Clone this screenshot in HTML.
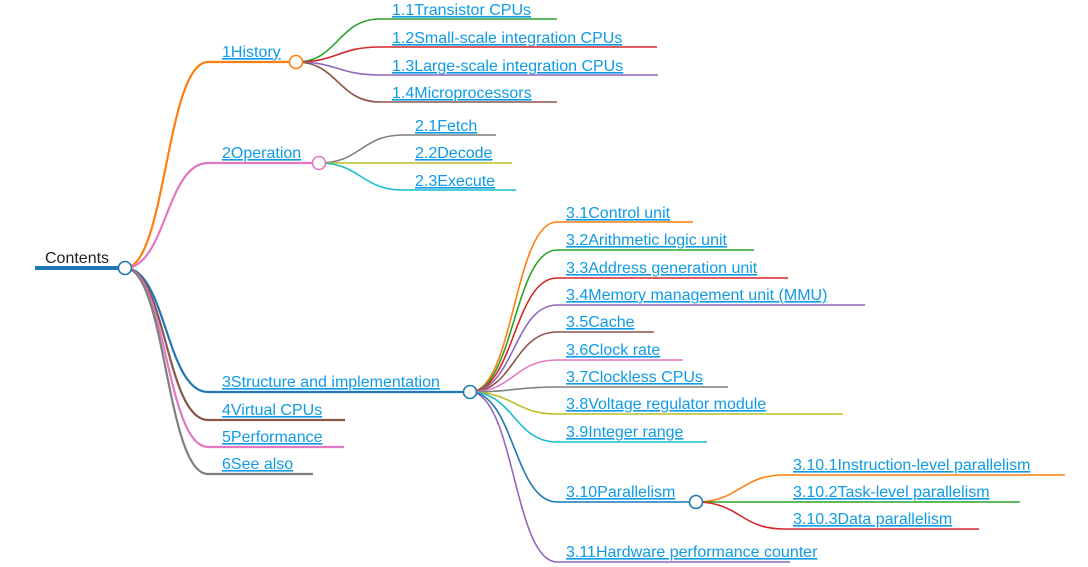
<!DOCTYPE html>
<html><head><meta charset="utf-8"><style>
html,body{margin:0;padding:0;background:#fff;width:1088px;height:567px;overflow:hidden}
svg text{font-family:"Liberation Sans",Arial,sans-serif;font-size:16px;fill:#0e9be6;text-decoration:underline}
svg path{fill:none}
</style></head><body>
<svg width="1088" height="567" viewBox="0 0 1088 567" xmlns="http://www.w3.org/2000/svg">
<!-- root -->
<path d="M35 268 L125 268" stroke="#1f77b4" stroke-width="4"/>
<text x="45" y="263" style="fill:#222;text-decoration:none">Contents</text>

<!-- level1 links -->
<g stroke-width="2.2">
<path d="M125 268 C166 268,166 62,208 62 L296 62" stroke="#ff7f0e"/>
<path d="M125 268 C166 268,166 163,208 163 L319 163" stroke="#e377c2"/>
<path d="M125 268 C166 268,166 392,208 392 L470 392" stroke="#1f77b4"/>
<path d="M125 268 C166 268,166 420,208 420 L345 420" stroke="#8c564b"/>
<path d="M125 268 C166 268,166 447,208 447 L344 447" stroke="#e377c2"/>
<path d="M125 268 C166 268,166 474,208 474 L313 474" stroke="#7f7f7f"/>
</g>
<text x="222" y="57">1History</text>
<text x="222" y="158">2Operation</text>
<text x="222" y="387">3Structure and implementation</text>
<text x="222" y="415">4Virtual CPUs</text>
<text x="222" y="442">5Performance</text>
<text x="222" y="469">6See also</text>

<!-- history kids -->
<g stroke-width="1.6">
<path d="M296 62 C338 62,338 19,380 19 L557 19" stroke="#2ca02c"/>
<path d="M296 62 C338 62,338 47,380 47 L657 47" stroke="#d62728"/>
<path d="M296 62 C338 62,338 75,380 75 L658 75" stroke="#9467bd"/>
<path d="M296 62 C338 62,338 102,380 102 L557 102" stroke="#8c564b"/>
<path d="M319 163 C361 163,361 135,403 135 L496 135" stroke="#7f7f7f"/>
<path d="M319 163 C361 163,361 163,403 163 L512 163" stroke="#bcbd22"/>
<path d="M319 163 C361 163,361 190,403 190 L516 190" stroke="#17becf"/>

<path d="M470 392 C514 392,514 222,557 222 L693 222" stroke="#ff7f0e"/>
<path d="M470 392 C514 392,514 250,557 250 L754 250" stroke="#2ca02c"/>
<path d="M470 392 C514 392,514 278,557 278 L788 278" stroke="#d62728"/>
<path d="M470 392 C514 392,514 305,557 305 L865 305" stroke="#9467bd"/>
<path d="M470 392 C514 392,514 332,557 332 L654 332" stroke="#8c564b"/>
<path d="M470 392 C514 392,514 360,557 360 L683 360" stroke="#e377c2"/>
<path d="M470 392 C514 392,514 387,557 387 L728 387" stroke="#7f7f7f"/>
<path d="M470 392 C514 392,514 414,557 414 L843 414" stroke="#bcbd22"/>
<path d="M470 392 C514 392,514 442,557 442 L707 442" stroke="#17becf"/>
<path d="M470 392 C514 392,514 502,557 502 L696 502" stroke="#1f77b4"/>
<path d="M470 392 C514 392,514 562,557 562 L790 562" stroke="#9467bd"/>

<path d="M696 502 C740 502,740 475,784 475 L1065 475" stroke="#ff7f0e"/>
<path d="M696 502 C740 502,740 502,784 502 L1020 502" stroke="#2ca02c"/>
<path d="M696 502 C740 502,740 529,784 529 L979 529" stroke="#d62728"/>
</g>

<text x="392" y="15">1.1Transistor CPUs</text>
<text x="392" y="43">1.2Small-scale integration CPUs</text>
<text x="392" y="71">1.3Large-scale integration CPUs</text>
<text x="392" y="98">1.4Microprocessors</text>
<text x="415" y="131">2.1Fetch</text>
<text x="415" y="158">2.2Decode</text>
<text x="415" y="186">2.3Execute</text>
<text x="566" y="218">3.1Control unit</text>
<text x="566" y="245">3.2Arithmetic logic unit</text>
<text x="566" y="273">3.3Address generation unit</text>
<text x="566" y="300">3.4Memory management unit (MMU)</text>
<text x="566" y="327">3.5Cache</text>
<text x="566" y="355">3.6Clock rate</text>
<text x="566" y="382">3.7Clockless CPUs</text>
<text x="566" y="409">3.8Voltage regulator module</text>
<text x="566" y="437">3.9Integer range</text>
<text x="566" y="497">3.10Parallelism</text>
<text x="566" y="557">3.11Hardware performance counter</text>
<text x="793" y="470">3.10.1Instruction-level parallelism</text>
<text x="793" y="497">3.10.2Task-level parallelism</text>
<text x="793" y="524">3.10.3Data parallelism</text>

<g fill="#fff" stroke-width="1.6">
<circle cx="125" cy="268" r="6.5" stroke="#1f77b4"/>
<circle cx="296" cy="62" r="6.5" stroke="#ff7f0e"/>
<circle cx="319" cy="163" r="6.5" stroke="#e377c2"/>
<circle cx="470" cy="392" r="6.5" stroke="#1f77b4"/>
<circle cx="696" cy="502" r="6.5" stroke="#1f77b4"/>
</g>
</svg>
</body></html>
